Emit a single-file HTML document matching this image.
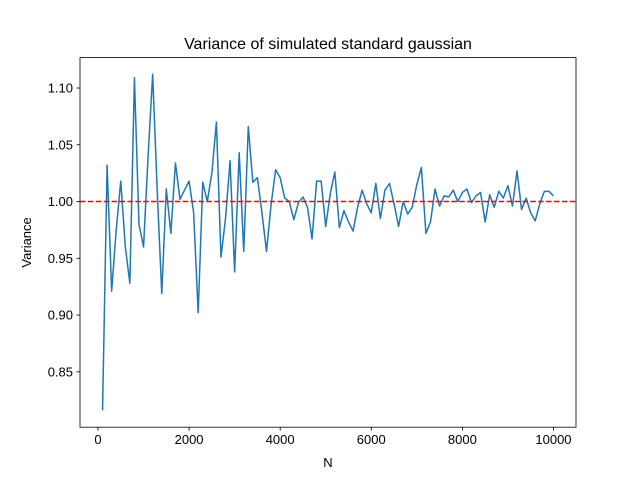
<!DOCTYPE html>
<html><head><meta charset="utf-8"><style>
html,body{margin:0;padding:0;background:#fff;}
svg text{font-family:"Liberation Sans","DejaVu Sans",sans-serif;}
</style></head><body>
<svg id="chart" width="640" height="480" xmlns="http://www.w3.org/2000/svg">
<rect width="640" height="480" fill="#fff"/>
<text x="328" y="49" font-size="16" text-anchor="middle">Variance of simulated standard gaussian</text>
<g id="plot"></g>
<text x="328" y="467" font-size="13" text-anchor="middle">N</text>
<text transform="translate(31,242.4) rotate(-90)" font-size="13" text-anchor="middle">Variance</text>
</svg>
<script>
const values = [0.816,1.032,0.921,0.975,1.018,0.960,0.928,1.109,0.980,0.960,
1.040,1.112,1.010,0.919,1.011,0.972,1.034,1.002,1.010,1.018,
0.990,0.902,1.017,1.000,1.025,1.070,0.951,0.985,1.036,0.938,
1.043,0.956,1.066,1.017,1.021,0.990,0.956,0.997,1.028,1.021,
1.003,1.000,0.984,0.999,1.004,0.995,0.967,1.018,1.018,0.978,
1.007,1.026,0.977,0.992,0.982,0.974,0.995,1.010,0.998,0.990,
1.016,0.985,1.010,1.016,0.998,0.978,1.000,0.989,0.995,1.015,
1.030,0.972,0.982,1.011,0.996,1.005,1.004,1.010,1.000,1.008,
1.011,0.999,1.005,1.008,0.982,1.006,0.995,1.009,1.003,1.014,
0.996,1.027,0.993,1.003,0.990,0.983,0.998,1.009,1.009,1.005];
const nValues = values.map((v,i)=>(i+1)*100);
const xTicks = [0,2000,4000,6000,8000,10000];
const yTicks = [0.85,0.90,0.95,1.00,1.05,1.10];
const yTickLabels = ["0.85","0.90","0.95","1.00","1.05","1.10"];
const refLine = 1.0;

const L=80,R=576,T=57.6,B=427.2;
const xmin0=Math.min(...nValues),xmax0=Math.max(...nValues);
const xm=(xmax0-xmin0)*0.05;
const ymin0=Math.min(...values,refLine),ymax0=Math.max(...values,refLine);
const ym=(ymax0-ymin0)*0.05;
const xs=v=>L+(v-(xmin0-xm))/((xmax0+xm)-(xmin0-xm))*(R-L);
const ys=v=>B-(v-(ymin0-ym))/((ymax0+ym)-(ymin0-ym))*(B-T);
const NS="http://www.w3.org/2000/svg";
const g=document.getElementById('plot');
function mk(t,a){const e=document.createElementNS(NS,t);for(const k in a)e.setAttribute(k,a[k]);g.appendChild(e);return e;}

xTicks.forEach(t=>{
  const x=xs(t);
  const tk=mk('line',{x1:x,x2:x,y1:B,y2:B+3.5,stroke:'#000','stroke-width':0.8});
  
  
  const tx=mk('text',{x:x,y:B+17,'font-size':13,'text-anchor':'middle'});
  tx.textContent=String(t);
  
  
});
yTicks.forEach((t,i)=>{
  const y=ys(t);
  const tk=mk('line',{x1:L-3.5,x2:L,y1:y,y2:y,stroke:'#000','stroke-width':0.8});
  
  
  const tx=mk('text',{x:L-7,y:y+4.5,'font-size':13,'text-anchor':'end'});
  tx.textContent=yTickLabels[i];
  
  
});
const pts=nValues.map((n,i)=>xs(n).toFixed(2)+','+ys(values[i]).toFixed(2)).join(' ');
const line=mk('polyline',{points:pts,fill:'none',stroke:'#1f77b4','stroke-width':1.5,'stroke-linejoin':'round'});


const ry=ys(refLine);
const ref=mk('line',{x1:L,x2:R,y1:ry,y2:ry,stroke:'#ff0000','stroke-width':1.5,'stroke-dasharray':'5.5,2.4'});


const fr=mk('rect',{x:L,y:T,width:R-L,height:B-T,fill:'none',stroke:'#000','stroke-width':0.8});


</script>
</body></html>
